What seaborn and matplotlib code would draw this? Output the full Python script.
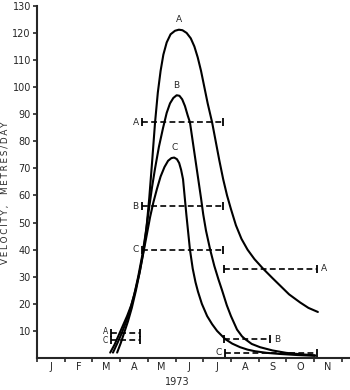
import numpy as np
import pandas as pd
import matplotlib
matplotlib.use('Agg')
import matplotlib.pyplot as plt
import seaborn as sns

# =====================================================================
# dados (meses decimais desde 1 jan 1973, velocidade m/dia)
# =====================================================================
meses_A = [2.64, 2.80, 2.95, 3.10, 3.25, 3.40, 3.55, 3.70, 3.85, 3.95, 4.05, 4.15,
           4.26, 4.36, 4.46, 4.56, 4.68, 4.82, 4.98, 5.12, 5.25, 5.40, 5.55, 5.68,
           5.80, 5.92, 6.04, 6.16, 6.32, 6.45, 6.58, 6.72, 6.86, 7.00, 7.18, 7.38,
           7.60, 7.85, 8.16, 8.50, 8.80, 9.10, 9.50, 9.80, 10.14]
vel_A = [2, 5, 8.5, 12, 15.5, 19.5, 25, 31.5, 40, 48, 59, 72,
         87, 98, 106, 112, 116.5, 119.5, 120.8, 121.2, 121, 120, 118, 115,
         111, 106, 100, 94, 87, 80, 73, 66, 60, 55, 49, 44,
         40, 36.5, 33, 29.5, 26.5, 23.5, 20.5, 18.5, 17]

meses_B = [2.74, 2.90, 3.05, 3.20, 3.35, 3.50, 3.65, 3.80, 3.92, 4.04, 4.15, 4.26,
           4.40, 4.55, 4.68, 4.80, 4.92, 5.04, 5.14, 5.24, 5.34, 5.44, 5.52, 5.62,
           5.72, 5.82, 5.92, 6.00, 6.10, 6.25, 6.40, 6.55, 6.68, 6.85, 7.00, 7.22,
           7.40, 7.51, 7.75, 8.05, 8.50, 9.00, 9.50, 10.04]
vel_B = [2, 5.5, 9, 13, 17.5, 23, 30, 38, 46, 55, 63, 70,
         78, 85, 90.5, 94, 96, 97, 96.8, 95.5, 93, 89.5, 87, 80,
         73, 66, 59, 53, 47, 40, 34, 29, 25, 19.5, 15.5, 10.5,
         8, 7, 5.2, 4, 2.8, 1.9, 1.4, 1]

meses_C = [2.89, 3.02, 3.15, 3.28, 3.42, 3.57, 3.72, 3.85, 3.97, 4.08, 4.20, 4.33,
           4.46, 4.60, 4.73, 4.85, 4.95, 5.05, 5.13, 5.20, 5.27, 5.39, 5.52, 5.62,
           5.72, 5.81, 5.95, 6.14, 6.32, 6.50, 6.79, 7.05, 7.33, 7.60, 7.87, 8.30,
           8.77, 9.40, 10.04]
vel_C = [2, 5.5, 9.5, 13.5, 18.5, 25, 32.5, 39.5, 46, 52, 57.5, 62.5,
         67, 70.5, 72.8, 73.8, 74, 73.4, 72, 69.5, 66, 53, 40, 33,
         28, 24.5, 20, 15.5, 12.5, 10, 7, 5.3, 4, 3.1, 2.5, 1.9,
         1.5, 1.1, 0.8]

# intervalos tracejados (velocidade media entre duas datas)
int_nome = ['A', 'B', 'C', 'A', 'A', 'C', 'B', 'C']
int_ini = [3.79, 3.79, 3.79, 6.75, 2.67, 2.67, 6.75, 6.80]
int_fim = [6.71, 6.71, 6.71, 10.11, 3.72, 3.72, 8.41, 10.11]
int_vel = [87, 56, 40, 33, 9.3, 6.7, 7, 2]
int_lado = ['esq', 'esq', 'esq', 'dir', 'esq', 'esq', 'dir', 'esq']

mes_letras = ['J', 'F', 'M', 'A', 'M', 'J', 'J', 'A', 'S', 'O', 'N']
y_ticks = list(range(10, 140, 10))
rotulo_y = 'VELOCITY,  METRES/DAY'

# =====================================================================
# figura
# =====================================================================
sns.set_style('ticks')
plt.rcParams['font.family'] = ['DejaVu Sans']

fig = plt.figure(figsize=(3.5, 3.9), dpi=100)
ax = fig.add_axes([0.106, 0.082, 0.894, 0.903])

curvas = {'A': (meses_A, vel_A), 'B': (meses_B, vel_B), 'C': (meses_C, vel_C)}
for nome, (mx, vy) in curvas.items():
    sns.lineplot(x=mx, y=vy, ax=ax, color='black', lw=1.5, sort=False,
                 estimator=None)
    i = int(np.argmax(vy))
    ax.text(mx[i], vy[i] + 2, nome, ha='center', va='bottom', fontsize=6.5)

for nome, x0, x1, v, lado in zip(int_nome, int_ini, int_fim, int_vel, int_lado):
    sns.lineplot(x=[x0, x1], y=[v, v], ax=ax, color='black', lw=1.2,
                 linestyle=(0, (3.5, 2)))
    sns.scatterplot(x=[x0, x1], y=[v, v], ax=ax, marker='|', s=30,
                    color='black', linewidth=1.3)
    if lado == 'dir':
        ax.text(x1 + 0.15, v, nome, ha='left', va='center', fontsize=6.5)
    elif v < 12 and x0 < 5:
        # os dois rotulos pequenos do inicio ficam colados
        if nome == 'A':
            ax.text(x0 - 0.1, v - 1.3, nome, ha='right', va='bottom', fontsize=5.5)
        else:
            ax.text(x0 - 0.1, v + 1.3, nome, ha='right', va='top', fontsize=5.5)
    else:
        ax.text(x0 - 0.12, v, nome, ha='right', va='center', fontsize=6.5)

ax.set_xlim(0, 11.3)
ax.set_ylim(0, 130)
ax.set_yticks(y_ticks)
ax.set_yticklabels([str(t) for t in y_ticks], fontsize=7)
ax.set_xticks(range(0, 12))
ax.set_xticklabels([])
ax.set_xticks([k + 0.5 for k in range(len(mes_letras))], minor=True)
ax.set_xticklabels(mes_letras, minor=True, fontsize=7)
ax.tick_params(axis='x', which='major', length=3, width=1.2, direction='out')
ax.tick_params(axis='x', which='minor', length=0, pad=3)
ax.tick_params(axis='y', length=3, width=1.2, pad=1.5)

# espacamento largo entre letras, como no original
ax.set_ylabel('\u2009'.join(rotulo_y), fontsize=6.3)
ax.yaxis.set_label_coords(-0.086, 0.469)
ax.set_xlabel('1973', fontsize=7)
ax.xaxis.set_label_coords(0.447, -0.055)

for s in ['left', 'bottom']:
    ax.spines[s].set_linewidth(1.5)
sns.despine(ax=ax)

fig.savefig('out.png', dpi=100)
